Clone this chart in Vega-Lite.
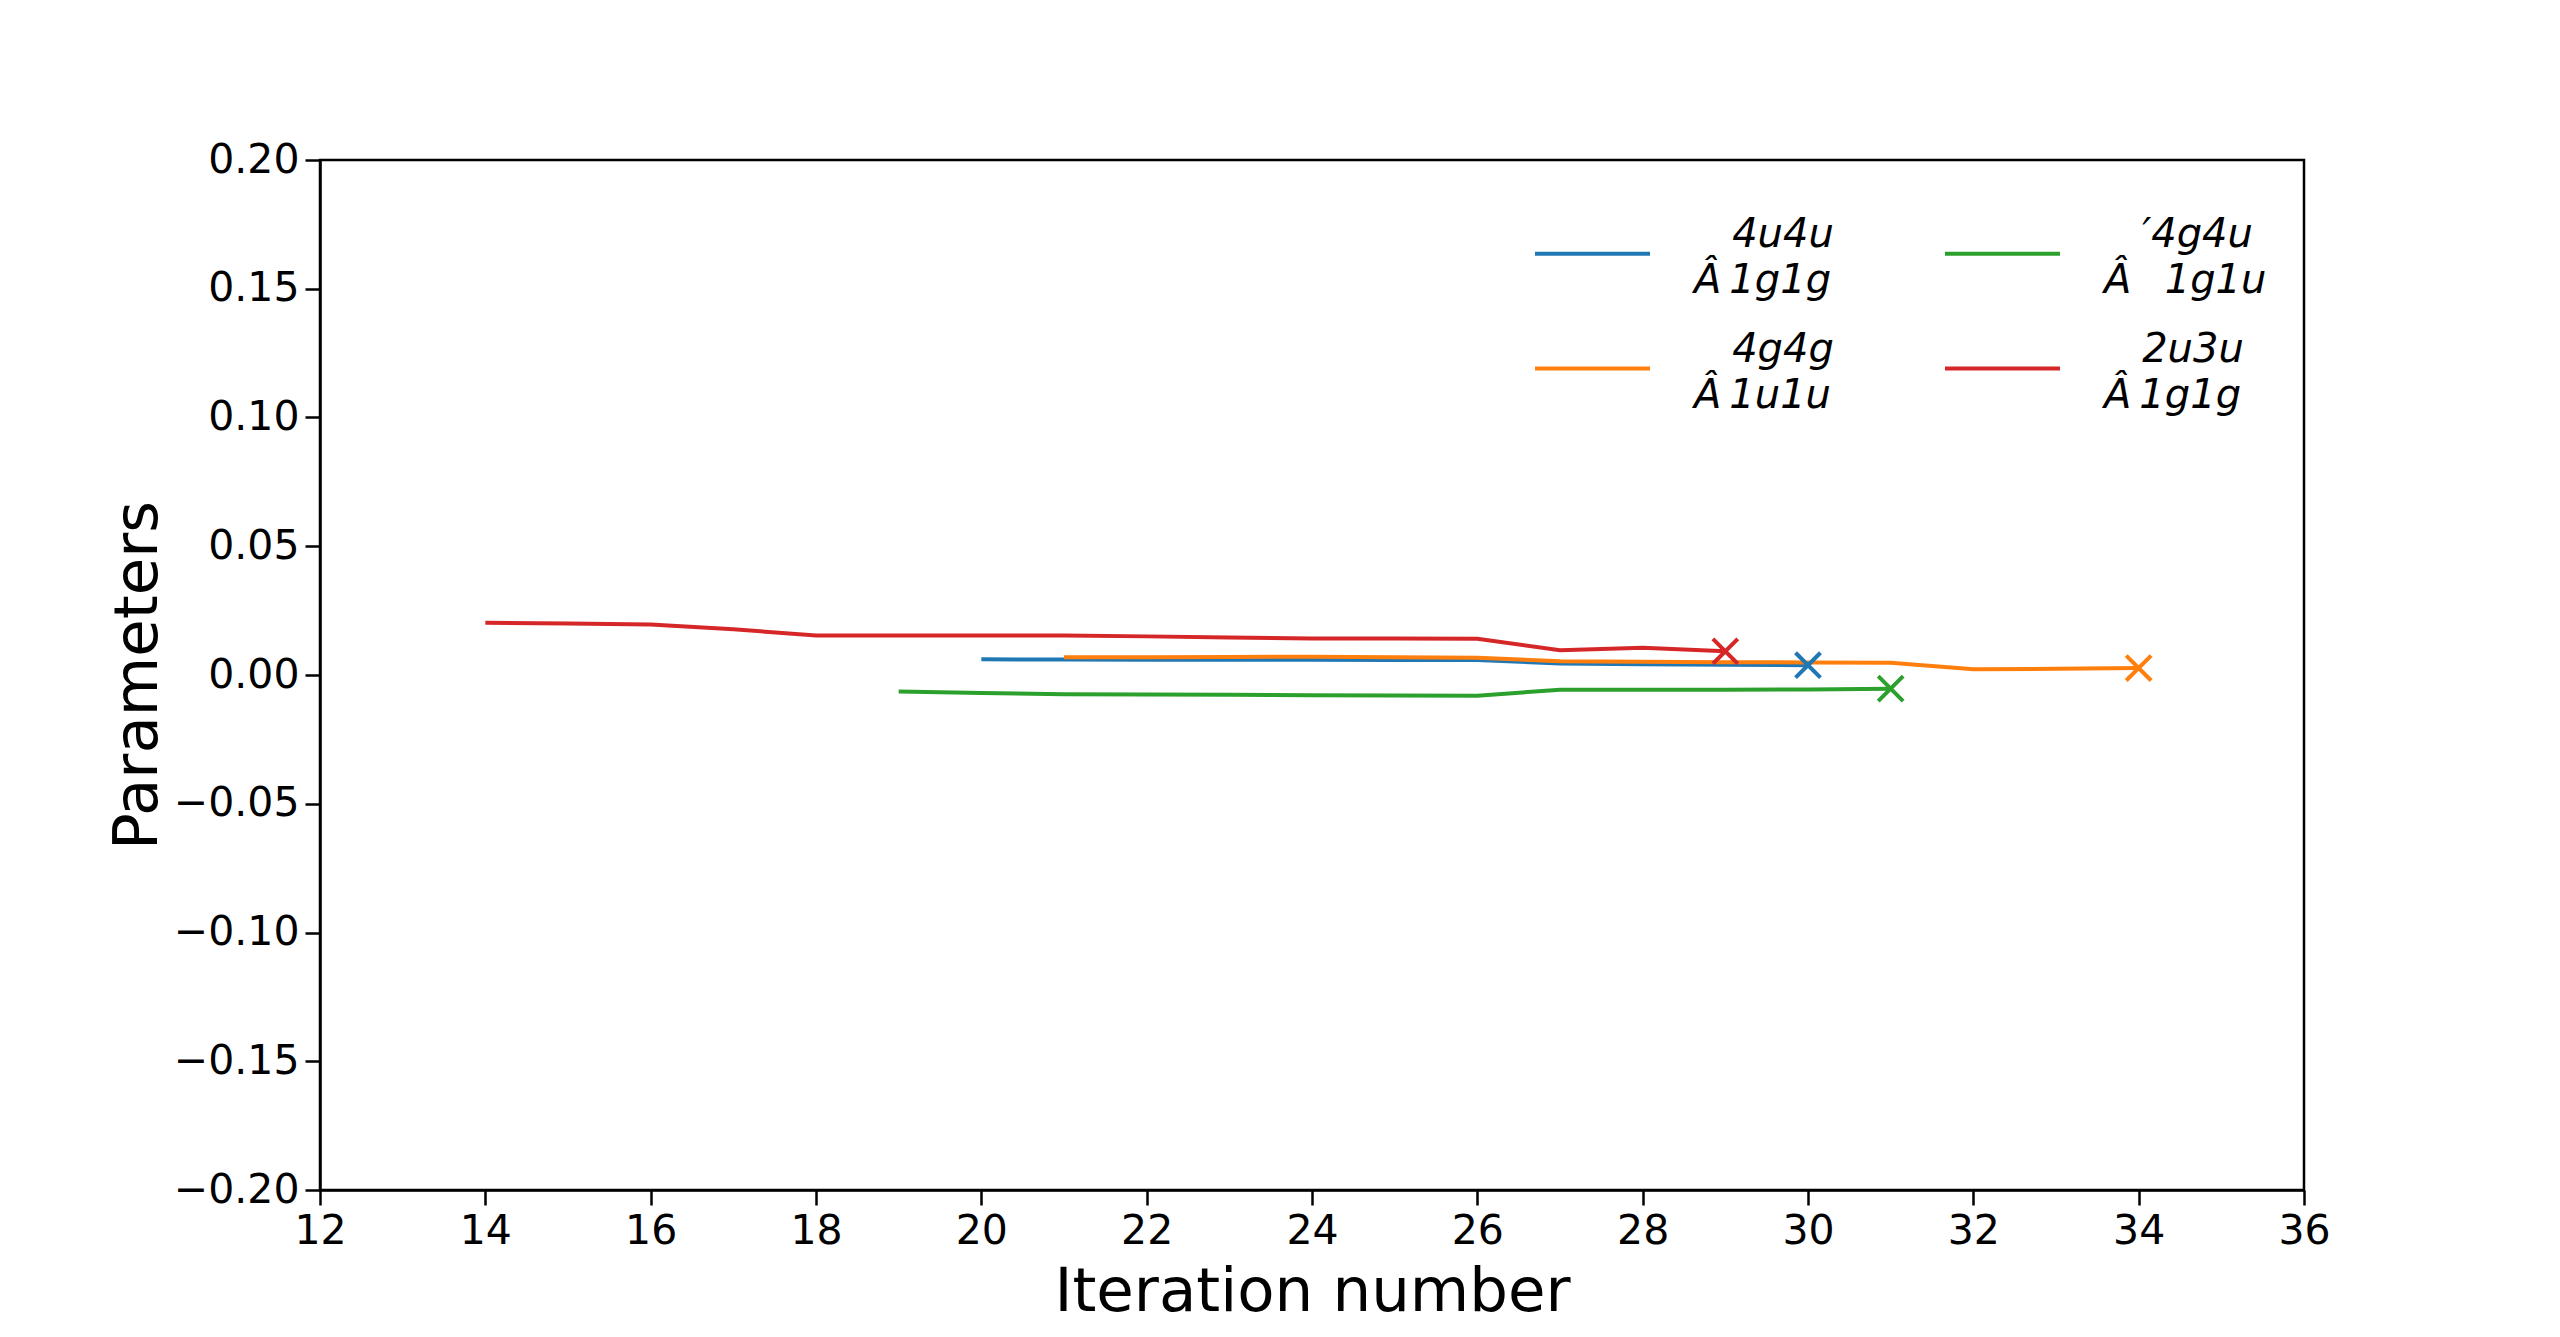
{
  "$schema": "https://vega.github.io/schema/vega-lite/v6.json",
  "width": 1984,
  "height": 1030,
  "autosize": {"type": "none"},
  "padding": {"left": 320, "top": 160, "right": 256, "bottom": 147},
  "background": "white",
  "config": {
    "font": "DejaVu Sans",
    "view": {"stroke": "black", "strokeWidth": 2.5},
    "axis": {
      "grid": false,
      "domainColor": "black",
      "domainWidth": 2.5,
      "tickColor": "black",
      "tickWidth": 2.5,
      "tickSize": 15,
      "labelColor": "black",
      "labelFontSize": 41,
      "labelPadding": 6,
      "titleColor": "black",
      "titleFontSize": 61,
      "titleFontWeight": "normal",
      "labelFlush": false
    },
    "legend": {
      "padding": 0
    }
  },
  "data": {
    "values": [
      {"series": "b", "iter": 20, "value": 0.0061},
      {"series": "b", "iter": 21, "value": 0.0060},
      {"series": "b", "iter": 22, "value": 0.0059},
      {"series": "b", "iter": 23, "value": 0.0059},
      {"series": "b", "iter": 24, "value": 0.0059},
      {"series": "b", "iter": 25, "value": 0.0058},
      {"series": "b", "iter": 26, "value": 0.0058},
      {"series": "b", "iter": 27, "value": 0.0045},
      {"series": "b", "iter": 28, "value": 0.0042},
      {"series": "b", "iter": 29, "value": 0.0040},
      {"series": "b", "iter": 30, "value": 0.0038},
      {"series": "o", "iter": 21, "value": 0.0069},
      {"series": "o", "iter": 22, "value": 0.0069},
      {"series": "o", "iter": 23, "value": 0.0070},
      {"series": "o", "iter": 24, "value": 0.0071},
      {"series": "o", "iter": 25, "value": 0.0069},
      {"series": "o", "iter": 26, "value": 0.0067},
      {"series": "o", "iter": 27, "value": 0.0053},
      {"series": "o", "iter": 28, "value": 0.0051},
      {"series": "o", "iter": 29, "value": 0.0050},
      {"series": "o", "iter": 30, "value": 0.0049},
      {"series": "o", "iter": 31, "value": 0.0048},
      {"series": "o", "iter": 32, "value": 0.0022},
      {"series": "o", "iter": 33, "value": 0.0024},
      {"series": "o", "iter": 34, "value": 0.0027},
      {"series": "g", "iter": 19, "value": -0.0064},
      {"series": "g", "iter": 20, "value": -0.0070},
      {"series": "g", "iter": 21, "value": -0.0075},
      {"series": "g", "iter": 22, "value": -0.0076},
      {"series": "g", "iter": 23, "value": -0.0077},
      {"series": "g", "iter": 24, "value": -0.0079},
      {"series": "g", "iter": 25, "value": -0.0080},
      {"series": "g", "iter": 26, "value": -0.0081},
      {"series": "g", "iter": 27, "value": -0.0057},
      {"series": "g", "iter": 28, "value": -0.0057},
      {"series": "g", "iter": 29, "value": -0.0057},
      {"series": "g", "iter": 30, "value": -0.0056},
      {"series": "g", "iter": 31, "value": -0.0053},
      {"series": "r", "iter": 14, "value": 0.0203},
      {"series": "r", "iter": 15, "value": 0.0200},
      {"series": "r", "iter": 16, "value": 0.0196},
      {"series": "r", "iter": 17, "value": 0.0178},
      {"series": "r", "iter": 18, "value": 0.0153},
      {"series": "r", "iter": 19, "value": 0.0153},
      {"series": "r", "iter": 20, "value": 0.0153},
      {"series": "r", "iter": 21, "value": 0.0153},
      {"series": "r", "iter": 22, "value": 0.0150},
      {"series": "r", "iter": 23, "value": 0.0146},
      {"series": "r", "iter": 24, "value": 0.0142},
      {"series": "r", "iter": 25, "value": 0.0142},
      {"series": "r", "iter": 26, "value": 0.0141},
      {"series": "r", "iter": 27, "value": 0.0096},
      {"series": "r", "iter": 28, "value": 0.0106},
      {"series": "r", "iter": 29, "value": 0.0092}
    ]
  },
  "encoding": {
    "x": {
      "field": "iter",
      "type": "quantitative",
      "scale": {"domain": [12, 36], "nice": false, "zero": false},
      "axis": {
        "values": [12, 14, 16, 18, 20, 22, 24, 26, 28, 30, 32, 34, 36],
        "title": "Iteration number",
        "titleBaseline": "alphabetic",
        "titleY": 120
      }
    },
    "y": {
      "field": "value",
      "type": "quantitative",
      "scale": {"domain": [-0.2, 0.2], "nice": false},
      "axis": {
        "values": [-0.2, -0.15, -0.1, -0.05, 0, 0.05, 0.1, 0.15, 0.2],
        "format": ".2f",
        "title": "Parameters",
        "titleAngle": -90,
        "titleBaseline": "alphabetic",
        "titleX": -164,
        "titleY": 515,
        "titleAlign": "center"
      }
    },
    "color": {
      "field": "series",
      "type": "nominal",
      "scale": {
        "domain": ["b", "g", "o", "r"],
        "range": ["#1f77b4", "#2ca02c", "#ff7f0e", "#d62728"]
      },
      "legend": {
        "title": null,
        "orient": "none",
        "legendX": 1213,
        "legendY": 34,
        "columns": 2,
        "direction": "horizontal",
        "symbolType": "stroke",
        "symbolSize": 13225,
        "symbolStrokeWidth": 4,
        "labelOffset": 42,
        "columnPadding": 103,
        "rowPadding": 8,
        "labelFontSize": 40,
        "labelFontStyle": "italic",
        "labelLimit": 500,
        "labelColor": "black",
        "labelExpr": "datum.value == 'b' ? ['\u200b\u00a0\u00a0\u00a04u4u', 'Â\u20091g1g'] : datum.value == 'g' ? ['\u200b\u00a0\u00a0\u00a0\u20324g4u', 'Â\u2009\u00a0\u00a01g1u'] : datum.value == 'o' ? ['\u200b\u00a0\u00a0\u00a04g4g', 'Â\u20091u1u'] : ['\u200b\u00a0\u00a0\u00a02u3u', 'Â\u20091g1g']",
        "encoding": {
          "labels": {
            "lineHeight": {"value": 46},
            "dy": {"value": -19}
          }
        }
      }
    }
  },
  "layer": [
    {
      "data": {"values": [{}]},
      "mark": {"type": "rule", "color": "#a0a0a0", "strokeWidth": 1.6, "strokeDash": [8, 3.5]},
      "encoding": {"y": {"datum": 0}, "x": null, "color": null}
    },
    {
      "mark": {"type": "line", "strokeWidth": 4, "strokeCap": "butt"}
    },
    {
      "transform": [
        {"joinaggregate": [{"op": "max", "field": "iter", "as": "last"}], "groupby": ["series"]},
        {"filter": "datum.iter == datum.last"}
      ],
      "mark": {
        "type": "point",
        "shape": "M-1,-1L1,1M1,-1L-1,1",
        "size": 620,
        "strokeWidth": 4,
        "filled": false,
        "opacity": 1
      }
    }
  ]
}
